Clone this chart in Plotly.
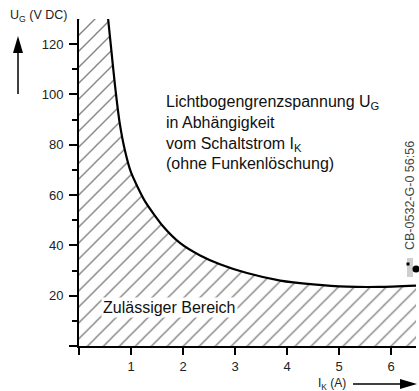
import plotly.graph_objects as go

# Arc-voltage limit curve: switching current I_K (A) vs. limit voltage U_G (V DC)
current_a = [0.56, 0.61, 0.69, 0.78, 0.88, 1.00, 1.27, 1.62, 1.94, 2.33, 2.71,
             3.23, 3.87, 4.50, 5.15, 5.79, 6.48]
voltage_v = [130, 120, 104, 89, 78, 69, 57.5, 47.5, 41, 36, 32.5,
             29, 26, 24.5, 23.6, 23.5, 24]

x_ticks = [0, 1, 2, 3, 4, 5, 6]
x_labels = ["", "1", "2", "3", "4", "5", "6"]
y_ticks = [0, 20, 40, 60, 80, 100, 120]
y_labels = ["", "20", "40", "60", "80", "100", "120"]
y_minor = [10, 30, 50, 70, 90, 110]

X_MAX = 6.48
Y_MAX = 130
FONT = "Liberation Sans, Arial, Helvetica, sans-serif"

W, H = 419, 391
M_L, M_R, M_T, M_B = 79, 3, 19, 45
PLOT_W = W - M_L - M_R
PLOT_H = H - M_T - M_B


def px(x):
    """pixel column -> paper x"""
    return (x - M_L) / PLOT_W


def py(y):
    """pixel row -> paper y"""
    return (H - M_B - y) / PLOT_H


fig = go.Figure()

# hatched permissible region below / left of the curve
fill_x = [0] + current_a + [X_MAX, 0]
fill_y = [Y_MAX] + voltage_v + [0, 0]
fig.add_trace(go.Scatter(
    x=fill_x, y=fill_y, mode="lines", fill="toself",
    line=dict(width=0, color="rgba(0,0,0,0)"),
    fillcolor="rgba(0,0,0,0)",
    fillpattern=dict(shape="/", size=11.3, solidity=0.12,
                     fgcolor="black", bgcolor="white"),
    hoverinfo="skip", showlegend=False,
))

# limit curve
fig.add_trace(go.Scatter(
    x=current_a, y=voltage_v, mode="lines",
    line=dict(color="black", width=2.2, shape="spline", smoothing=0.6),
    hoverinfo="skip", showlegend=False,
))

axis_common = dict(
    showgrid=False, zeroline=False, showline=True, linecolor="black",
    linewidth=1.8, ticks="outside", tickcolor="black", tickwidth=1.5,
    tickfont=dict(family=FONT, size=13, color="#222"),
)

fig.update_xaxes(range=[0, X_MAX], tickvals=x_ticks, ticktext=x_labels,
                 ticklen=7, **axis_common)
fig.update_yaxes(range=[0, Y_MAX], tickvals=y_ticks, ticktext=y_labels,
                 ticklen=8, ticklabelstandoff=3,
                 minor=dict(tickvals=y_minor, ticks="outside", ticklen=5,
                            tickwidth=1.5, tickcolor="black"),
                 **axis_common)

annotations = [
    dict(x=1.63, y=84.7, xref="x", yref="y", xanchor="left", yanchor="middle",
         align="left", showarrow=False,
         text="Lichtbogengrenzspannung U<sub>G</sub><br>in Abhängigkeit<br>"
              "vom Schaltstrom I<sub>K</sub><br>(ohne Funkenlöschung)",
         font=dict(family=FONT, size=16, color="#111")),
    dict(x=0.42, y=15.5, xref="x", yref="y", xanchor="left", yanchor="middle",
         showarrow=False, text="Zulässiger Bereich", bgcolor="white",
         borderpad=1, font=dict(family=FONT, size=16, color="#111")),
    # axis titles
    dict(x=px(8), y=py(16), xref="paper", yref="paper", xanchor="left",
         yanchor="middle", showarrow=False, text="U<sub>G</sub> (V DC)",
         font=dict(family=FONT, size=12.5, color="#222")),
    dict(x=px(332), y=py(384), xref="paper", yref="paper", xanchor="center",
         yanchor="middle", showarrow=False, text="I<sub>K</sub> (A)",
         font=dict(family=FONT, size=12, color="#222")),
    # drawing code
    dict(x=px(410), y=py(196), xref="paper", yref="paper", xanchor="center",
         yanchor="middle", showarrow=False, textangle=-90,
         text="CB-0532-G-0 56:56",
         font=dict(family=FONT, size=12.5, color="#444")),
]


def tri(points):
    return "M " + " L ".join(f"{px(a):.5f},{py(b):.5f}" for a, b in points) + " Z"


shapes = [
    # vertical axis arrow
    dict(type="line", xref="paper", yref="paper", x0=px(18), x1=px(18),
         y0=py(94), y1=py(50), line=dict(color="black", width=1.5)),
    dict(type="path", xref="paper", yref="paper",
         path=tri([(18, 36), (13, 53), (23, 53)]),
         fillcolor="black", line=dict(width=0)),
    # horizontal axis arrow
    dict(type="line", xref="paper", yref="paper", x0=px(353), x1=px(402),
         y0=py(384), y1=py(384), line=dict(color="black", width=1.5)),
    dict(type="path", xref="paper", yref="paper",
         path=tri([(417, 384), (400, 379), (400, 389)]),
         fillcolor="black", line=dict(width=0)),
    # drawing-code marker
    dict(type="rect", xref="paper", yref="paper", x0=px(407), x1=px(413),
         y0=py(277), y1=py(258), fillcolor="#cfcfcf", line=dict(width=0)),
    dict(type="circle", xref="paper", yref="paper", x0=px(412.5), x1=px(419.5),
         y0=py(272.5), y1=py(265.5), fillcolor="black", line=dict(width=0)),
    dict(type="rect", xref="paper", yref="paper", x0=px(406.5), x1=px(409.5),
         y0=py(265.5), y1=py(262.5), fillcolor="black", line=dict(width=0)),
]

fig.update_layout(
    width=W, height=H,
    margin=dict(l=M_L, r=M_R, t=M_T, b=M_B),
    paper_bgcolor="white", plot_bgcolor="white",
    annotations=annotations, shapes=shapes,
    font=dict(family=FONT),
)

fig.write_html("out.html")
